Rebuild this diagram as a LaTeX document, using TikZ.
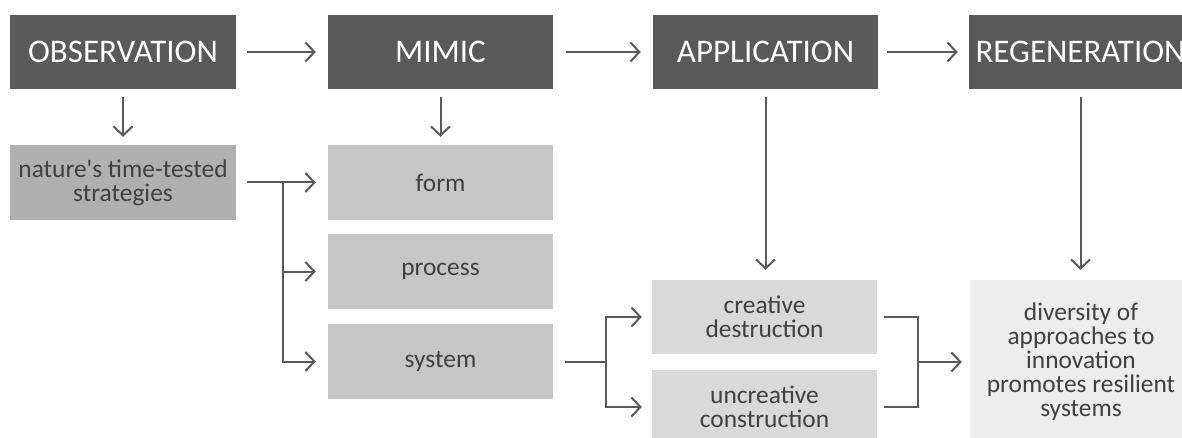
\documentclass[tikz,border=0pt]{standalone}
\usepackage{fontspec}
\setmainfont{Carlito}[Ligatures=TeXOff]
\usetikzlibrary{arrows.meta}
\definecolor{headfill}{HTML}{595959}
\definecolor{linecol}{HTML}{5A5A5A}
\definecolor{textcol}{HTML}{404040}
\definecolor{fillA}{HTML}{B0B0B0}
\definecolor{fillB}{HTML}{C6C6C6}
\definecolor{fillC}{HTML}{D9D9D9}
\definecolor{fillD}{HTML}{EDEDED}
\tikzset{
  head/.style={fill=headfill, text=white, minimum height=74pt, inner sep=0pt,
    font=\fontsize{33}{36}\selectfont},
  sub/.style={text=textcol, minimum height=75pt, minimum width=225pt, inner sep=0pt,
    align=center, font=\fontsize{25.4}{24}\selectfont},
  conn/.style={draw=linecol, line width=2pt},
  arr/.style={conn, -{Straight Barb[length=9pt,width=19pt]}},
}
\begin{document}
\begin{tikzpicture}[x=1pt,y=-1pt]
\useasboundingbox (0,0) rectangle (1182,438);

% stage headers
\node[head, minimum width=226pt] (obs)   at (123,52)    {OBSERVATION};
\node[head, minimum width=225pt] (mimic) at (440.5,52)  {MIMIC};
\node[head, minimum width=225pt] (app)   at (765.5,52)  {APPLICATION};
\node[head, minimum width=223pt] (regen) at (1080.5,52) {REGENERATION};

% detail boxes
\node[sub, fill=fillA, minimum width=226pt] (nature) at (123,182.5) {nature's time-tested\\strategies};
\node[sub, fill=fillB] (form)    at (440.5,182.5) {form};
\node[sub, fill=fillB] (process) at (440.5,271.5) {process};
\node[sub, fill=fillB] (system)  at (440.5,361.5) {system};
\node[sub, fill=fillC, minimum height=74pt] (creative)   at (764.5,317) {creative\\destruction};
\node[sub, fill=fillC, minimum height=74pt] (uncreative) at (764.5,407) {uncreative\\construction};
\node[sub, fill=fillD, minimum width=222pt, minimum height=164pt] (diversity) at (1081,362)
  {diversity of\\approaches to\\innovation\\promotes resilient\\systems};

% flow between headers
\draw[arr, shorten <=11pt, shorten >=12pt] (obs.east) -- (mimic.west);
\draw[arr, shorten <=13pt, shorten >=12pt] (mimic.east) -- (app.west);
\draw[arr, shorten <=9pt, shorten >=11pt] (app.east) -- (regen.west);

% headers down to their details
\draw[arr, shorten <=8pt, shorten >=8pt] (obs.south) -- (nature.north);
\draw[arr, shorten <=8pt, shorten >=8pt] (mimic.south) -- (form.north);
\draw[arr, shorten <=8pt, shorten >=10pt] (app.south) -- (app.south |- creative.north);
\draw[arr, shorten <=8pt, shorten >=10pt] (regen.south) -- (regen.south |- diversity.north);

% strategies branch to form, process, system
\coordinate (j1) at (283,182.5);
\draw[arr, shorten <=11pt, shorten >=12pt] (nature.east) -- (form.west);
\draw[conn] (j1) -- (j1 |- system.west);
\draw[arr, shorten >=12pt] (j1) |- (process.west);
\draw[arr, shorten >=12pt] (j1) |- (system.west);

% system branch to the two construction modes
\coordinate (j2) at (606,361.5);
\draw[conn, shorten <=12pt] (system.east) -- (j2);
\draw[arr, shorten >=10pt] (j2) |- (creative.west);
\draw[arr, shorten >=10pt] (j2) |- (uncreative.west);

% both modes merge into diversity
\coordinate (j3) at (918,362);
\draw[conn, shorten <=7pt] (creative.east) -| (j3);
\draw[conn, shorten <=7pt] (uncreative.east) -| (j3);
\draw[arr, shorten >=8pt] (j3) -- (diversity.west);
\end{tikzpicture}
\end{document}
